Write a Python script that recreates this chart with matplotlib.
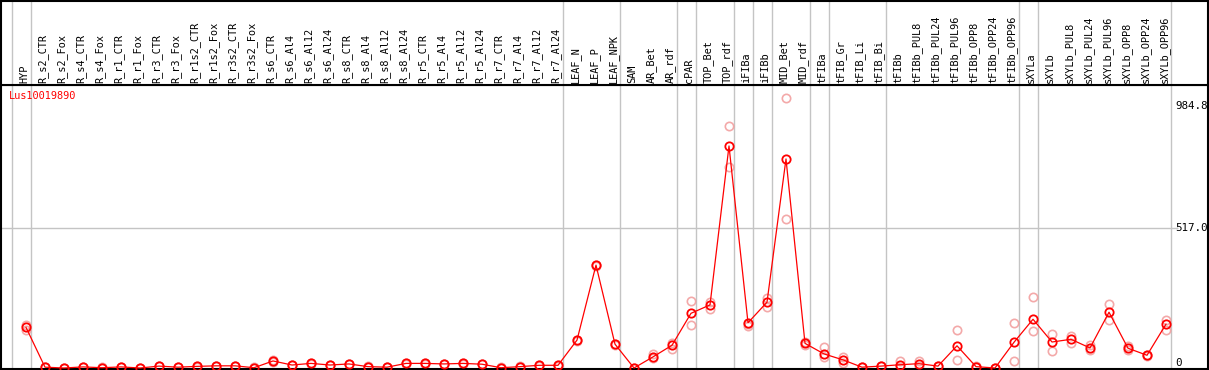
import matplotlib
matplotlib.use("Agg")
import matplotlib.pyplot as plt

# Spalten (Proben)
samples = [
    "HYP", "R_s2_CTR", "R_s2_Fox", "R_s4_CTR", "R_s4_Fox", "R_r1_CTR", "R_r1_Fox",
    "R_r3_CTR", "R_r3_Fox", "R_r1s2_CTR", "R_r1s2_Fox", "R_r3s2_CTR", "R_r3s2_Fox",
    "R_s6_CTR", "R_s6_Al4", "R_s6_Al12", "R_s6_Al24", "R_s8_CTR", "R_s8_Al4",
    "R_s8_Al12", "R_s8_Al24", "R_r5_CTR", "R_r5_Al4", "R_r5_Al12", "R_r5_Al24",
    "R_r7_CTR", "R_r7_Al4", "R_r7_Al12", "R_r7_Al24", "LEAF_N", "LEAF_P", "LEAF_NPK",
    "SAM", "AR_Bet", "AR_rdf", "cPAR", "TOP_Bet", "TOP_rdf", "iFIBa", "iFIBb",
    "MID_Bet", "MID_rdf", "tFIBa", "tFIB_Gr", "tFIB_Li", "tFIB_Bi", "tFIBb",
    "tFIBb_PUL8", "tFIBb_PUL24", "tFIBb_PUL96", "tFIBb_OPP8", "tFIBb_OPP24",
    "tFIBb_OPP96", "sXYLa", "sXYLb", "sXYLb_PUL8", "sXYLb_PUL24", "sXYLb_PUL96",
    "sXYLb_OPP8", "sXYLb_OPP24", "sXYLb_OPP96",
]

# Gruppenanfaenge (Index der ersten Probe einer Gruppe) + Ende
group_starts = [0, 1, 29, 32, 35, 36, 38, 39, 40, 42, 43, 46, 53, 54, 61]

# Mittelwerte
mean_vals = [
    150, 3, 0, 4, 1, 4, 0, 7, 3, 6, 8, 8, 1, 26, 11, 17, 11, 15, 5, 3,
    17, 17, 15, 17, 14, 1, 5, 10, 10, 103, 380, 88, 0, 41, 84, 202, 233, 820,
    167, 243, 772, 91, 52, 30, 3, 7, 12, 16, 7, 82, 5, 0, 95, 180, 96, 106,
    74, 206, 73, 47, 162,
]
# Replikate
rep_a = [
    159, 4, 1, 5, 2, 5, 1, 8, 4, 7, 9, 9, 2, 28, 12, 18, 12, 16, 6, 4,
    18, 18, 16, 18, 15, 2, 6, 11, 11, 105, 382, 90, 1, 51, 93, 247, 243, 894,
    162, 260, 996, 85, 76, 42, 4, 8, 25, 27, 8, 140, 6, 1, 166, 261, 124, 118,
    84, 235, 81, 49, 177,
]
rep_b = [
    140, 2, 0, 3, 0, 3, 0, 6, 2, 5, 7, 7, 0, 24, 10, 16, 10, 14, 4, 2,
    16, 16, 14, 16, 13, 0, 4, 9, 9, 101, 378, 86, 0, 36, 69, 158, 218, 743,
    155, 226, 549, 97, 40, 20, 2, 6, 5, 7, 6, 30, 4, 0, 25, 138, 62, 91,
    66, 177, 66, 45, 140,
]

gene = "Lus10019890"
y_labels = ["984.8", "517.0", "0"]
y_label_vals = [984.8, 517.0, 0.0]
grid_val = 517.0

W, H = 1209, 370
fig = plt.figure(figsize=(W / 100, H / 100), dpi=100)

# Pixel-Layout
left_px, right_px = 1, 1208
header_bottom_px, plot_bottom_px = 85, 369
ax = fig.add_axes([left_px / W, (H - plot_bottom_px) / H,
                   (right_px - left_px) / W, (plot_bottom_px - header_bottom_px) / H])
hx = fig.add_axes([left_px / W, (H - header_bottom_px) / H,
                   (right_px - left_px) / W, (header_bottom_px - 0.5) / H], sharex=ax)

step = 19.0
x0_px = 26.0
xlim = ((left_px - x0_px) / step, (right_px - x0_px) / step)
px_per_val = 140 / 517.0
ylim = (-(plot_bottom_px - 368) / px_per_val, (368 - header_bottom_px) / px_per_val)

xs = list(range(len(samples)))
sep_off = 14.5 / step
gray = "#c4c4c4"

for a in (ax, hx):
    for g in group_starts:
        a.axvline(g - sep_off, color=gray, lw=1.0, zorder=1)
    a.set_xlim(*xlim)
    a.set_xticks([])
    a.set_yticks([])
    for s in a.spines.values():
        s.set_color("black")
        s.set_linewidth(1.5)

ax.set_ylim(*ylim)
hx.set_ylim(0, 1)

# horizontale Linie
ax.hlines(grid_val, xlim[0], (1178 - x0_px) / step, color=gray, lw=1.0, zorder=1)

# Replikate
pink = "#f29a9a"
for reps in (rep_a, rep_b):
    ax.plot(xs, reps, ls="none", marker="o", ms=6, mfc="none", mec=pink,
            mew=1.2, alpha=0.85, zorder=2, clip_on=False)

# Mittelwerte
ax.plot(xs, mean_vals, color="red", lw=0.9, marker="o", ms=6, mfc="none",
        mec="red", mew=1.3, zorder=3, clip_on=False)

font = dict(family="DejaVu Sans Mono", size=7.4)

# Spaltenbeschriftung
for i, name in enumerate(samples):
    hx.text(i - 0.1, 0.025, name, rotation=90, ha="center", va="bottom",
            color="black", **font)

# Gen-Name
ax.text(8 / (right_px - left_px), 1 - 11 / (plot_bottom_px - header_bottom_px),
        gene, transform=ax.transAxes, ha="left", va="center", color="red", **font)

# Werte rechts
vas = ["top", "center", "bottom"]
for lab, val, va in zip(y_labels, y_label_vals, vas):
    ax.text((1175 - x0_px) / step, val, lab, ha="left", va=va, color="black",
            family="DejaVu Sans Mono", size=7.8)

fig.savefig("out.png", dpi=100)
